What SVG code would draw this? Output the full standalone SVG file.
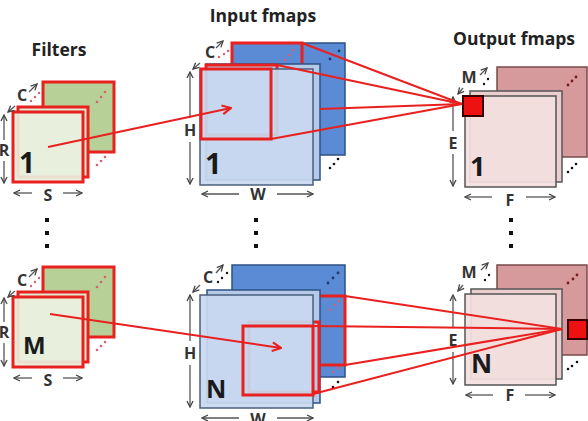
<svg xmlns="http://www.w3.org/2000/svg" width="588" height="421" viewBox="0 0 588 421">
<defs>
<marker id="ga" viewBox="0 0 8 8" refX="7" refY="4" markerWidth="8" markerHeight="8" markerUnits="userSpaceOnUse" orient="auto"><path d="M1,1 L7,4 L1,7" fill="none" stroke="#444" stroke-width="1.3"/></marker>
<marker id="ra" viewBox="0 0 10 10" refX="9" refY="5" markerWidth="11" markerHeight="11" markerUnits="userSpaceOnUse" orient="auto"><path d="M1,1 L9,5 L1,9" fill="none" stroke="#e8201e" stroke-width="2"/></marker>
<style>
.t{font-family:"Open Sans","Liberation Sans",sans-serif;font-weight:700;fill:#222}
.ttl{font-size:17.5px;text-anchor:middle}
.lb{font-size:16px;fill:#333;text-anchor:middle}
.big{font-size:28px;fill:#1a1a1a}
.ga{stroke:#555;stroke-width:1.3;fill:none;marker-end:url(#ga)}
.fb{fill:#b7d097;stroke:#e8201e;stroke-width:3}
.fm{fill:#e1e9d0;stroke:#e8201e;stroke-width:3}
.ff{fill:#e9efdd;fill-opacity:0.92;stroke:#e8201e;stroke-width:3}
.ib{fill:#5b8bd5;stroke:#2e5185;stroke-width:1.5}
.im{fill:#b6c9e7;stroke:#2e5185;stroke-width:1.5}
.if{fill:#c8d8ef;fill-opacity:0.93;stroke:#4a5f7e;stroke-width:1.5}
.ob{fill:#d79a9c;stroke:#7a4a4a;stroke-width:1.5}
.om{fill:#ebcfcf;stroke:#555;stroke-width:1.5}
.of{fill:#f3dfdf;fill-opacity:0.93;stroke:#555;stroke-width:1.5}
.rr{fill:none;stroke:#e8201e;stroke-width:3}
.rq{fill:#ee1111;stroke:#3a0000;stroke-width:2}
.cn{stroke:#e8201e;stroke-width:2;fill:none}
.dk{fill:#111}
.db{fill:#1d3a70}
.pk{fill:#d86070}
.dr{fill:#7a1a1a}
</style>
</defs>
<rect width="588" height="421" fill="#ffffff"/>

<text class="t ttl" x="59" y="56">Filters</text>
<text class="t ttl" x="263" y="22">Input fmaps</text>
<text class="t ttl" x="514" y="45">Output fmaps</text>

<g id="filter-1">
<rect class="fb" x="43" y="82" width="71" height="70"/>
<circle class="pk" cx="97" cy="102" r="1.3"/><circle class="pk" cx="101" cy="97" r="1.3"/><circle class="pk" cx="105" cy="92" r="1.3"/>
<circle class="pk" cx="97" cy="165" r="1.3"/><circle class="pk" cx="101" cy="161" r="1.3"/><circle class="pk" cx="105" cy="157" r="1.3"/>
<rect class="fm" x="18" y="107" width="70" height="70"/>
<rect class="ff" x="13" y="112" width="70" height="70"/>
<text class="t big" x="19" y="173">1</text>
<text class="t lb" x="22" y="101">C</text>
<line class="ga" x1="29" y1="92" x2="37" y2="84"/>
<line class="ga" x1="15" y1="106" x2="8" y2="112"/>
<circle class="pk" cx="31" cy="101" r="1.2"/><circle class="pk" cx="35" cy="97" r="1.2"/><circle class="pk" cx="39" cy="93" r="1.2"/>
<text class="t lb" x="4" y="156">R</text>
<line class="ga" x1="4" y1="140" x2="4" y2="115"/>
<line class="ga" x1="4" y1="161" x2="4" y2="183"/>
<text class="t lb" x="48" y="201">S</text>
<line class="ga" x1="32" y1="193" x2="14" y2="193"/>
<line class="ga" x1="63" y1="193" x2="82" y2="193"/>
</g>

<g id="filter-M">
<rect class="fb" x="43" y="267" width="71" height="70"/>
<circle class="pk" cx="97" cy="287" r="1.3"/><circle class="pk" cx="101" cy="282" r="1.3"/><circle class="pk" cx="105" cy="277" r="1.3"/>
<circle class="pk" cx="97" cy="350" r="1.3"/><circle class="pk" cx="101" cy="346" r="1.3"/><circle class="pk" cx="105" cy="342" r="1.3"/>
<rect class="fm" x="18" y="292" width="70" height="70"/>
<rect class="ff" x="13" y="297" width="70" height="70"/>
<text class="t big" x="23" y="354" style="font-size:24px">M</text>
<text class="t lb" x="22" y="286">C</text>
<line class="ga" x1="29" y1="277" x2="37" y2="269"/>
<line class="ga" x1="15" y1="291" x2="8" y2="297"/>
<circle class="pk" cx="31" cy="286" r="1.2"/><circle class="pk" cx="35" cy="282" r="1.2"/><circle class="pk" cx="39" cy="278" r="1.2"/>
<text class="t lb" x="4" y="338">R</text>
<line class="ga" x1="4" y1="322" x2="4" y2="298"/>
<line class="ga" x1="4" y1="343" x2="4" y2="366"/>
<text class="t lb" x="48" y="386">S</text>
<line class="ga" x1="32" y1="378" x2="14" y2="378"/>
<line class="ga" x1="63" y1="378" x2="82" y2="378"/>
</g>

<g id="ifmap-1">
<rect class="ib" x="232" y="43" width="113" height="112"/>
<rect class="rr" x="232" y="43" width="70" height="70"/>
<circle class="db" cx="339" cy="51" r="1.4"/><circle class="db" cx="330" cy="59" r="1.4"/>
<circle class="pk" cx="293" cy="50" r="1.2"/><circle class="pk" cx="289" cy="55" r="1.2"/><circle class="pk" cx="285" cy="60" r="1.2"/>
<rect class="im" x="206" y="64" width="114" height="116"/>
<rect class="rr" x="206" y="65" width="71" height="70"/>
<rect class="if" x="200" y="69" width="113" height="116"/>
<rect class="rr" x="201" y="69" width="70" height="70"/>
<circle class="dk" cx="330" cy="168" r="1.3"/><circle class="dk" cx="334" cy="164" r="1.3"/><circle class="dk" cx="338" cy="159" r="1.3"/>
<text class="t big" x="205" y="174" style="font-size:29px">1</text>
<text class="t lb" x="210" y="58">C</text>
<line class="ga" x1="216" y1="48" x2="223" y2="41"/>
<line class="ga" x1="200" y1="63" x2="193" y2="69"/>
<circle class="pk" cx="219" cy="57" r="1.2"/><circle class="pk" cx="224" cy="54" r="1.2"/><circle class="pk" cx="228" cy="51" r="1.2"/>
<text class="t lb" x="190" y="136">H</text>
<line class="ga" x1="190" y1="118" x2="190" y2="72"/>
<line class="ga" x1="190" y1="142" x2="190" y2="184"/>
<text class="t lb" x="258" y="200">W</text>
<line class="ga" x1="239" y1="194" x2="202" y2="194"/>
<line class="ga" x1="277" y1="194" x2="313" y2="194"/>
</g>

<g id="ifmap-N">
<rect class="ib" x="232" y="265" width="113" height="112"/>
<rect class="rr" x="275" y="296" width="70" height="69"/>
<circle class="db" cx="328" cy="283" r="1.4"/><circle class="db" cx="333" cy="278" r="1.4"/><circle class="db" cx="338" cy="273" r="1.4"/>
<circle class="pk" cx="330" cy="310" r="1.2"/><circle class="pk" cx="335" cy="305" r="1.2"/><circle class="pk" cx="339" cy="301" r="1.2"/>
<circle class="pk" cx="333" cy="372" r="1.2"/><circle class="pk" cx="338" cy="368" r="1.2"/>
<rect class="im" x="207" y="290" width="113" height="113"/>
<rect class="rr" x="249" y="322" width="70" height="70"/>
<rect class="if" x="200" y="295" width="113" height="113"/>
<rect class="rr" x="243" y="326" width="70" height="69"/>
<circle class="dk" cx="333" cy="387" r="1.3"/><circle class="dk" cx="338" cy="382" r="1.3"/>
<text class="t big" x="206" y="398" style="font-size:25px">N</text>
<text class="t lb" x="208" y="283">C</text>
<line class="ga" x1="216" y1="273" x2="223" y2="265"/>
<line class="ga" x1="200" y1="285" x2="193" y2="292"/>
<circle class="dk" cx="218" cy="282" r="1.2"/><circle class="dk" cx="222" cy="278" r="1.2"/><circle class="dk" cx="227" cy="273" r="1.2"/>
<text class="t lb" x="190" y="359">H</text>
<line class="ga" x1="190" y1="341" x2="190" y2="295"/>
<line class="ga" x1="190" y1="365" x2="190" y2="407"/>
<text class="t lb" x="258" y="425">W</text>
<line class="ga" x1="239" y1="418" x2="202" y2="418"/>
<line class="ga" x1="277" y1="418" x2="313" y2="418"/>
</g>

<g id="ofmap-1">
<rect class="ob" x="497" y="67" width="90" height="90"/>
<circle class="dr" cx="568" cy="85" r="1.4"/><circle class="dr" cx="572" cy="81" r="1.4"/><circle class="dr" cx="576" cy="77" r="1.4"/>
<rect class="om" x="470" y="91" width="92" height="91"/>
<rect class="of" x="465" y="96" width="91" height="91"/>
<rect class="rq" x="463" y="96" width="20" height="20"/>
<circle class="dk" cx="568" cy="172" r="1.3"/><circle class="dk" cx="572" cy="168" r="1.3"/><circle class="dk" cx="576" cy="164" r="1.3"/>
<text class="t big" x="470" y="176" style="font-size:27px">1</text>
<text class="t lb" x="469" y="83">M</text>
<line class="ga" x1="480" y1="75" x2="487" y2="68"/>
<line class="ga" x1="463" y1="88" x2="458" y2="94"/>
<circle class="dk" cx="484" cy="84" r="1.2"/><circle class="dk" cx="488" cy="79" r="1.2"/>
<text class="t lb" x="453" y="149">E</text>
<line class="ga" x1="453" y1="131" x2="453" y2="97"/>
<line class="ga" x1="453" y1="154" x2="453" y2="186"/>
<text class="t lb" x="510" y="206">F</text>
<line class="ga" x1="492" y1="197" x2="465" y2="197"/>
<line class="ga" x1="526" y1="197" x2="555" y2="197"/>
</g>

<g id="ofmap-N">
<rect class="ob" x="497" y="265" width="90" height="90"/>
<circle class="dr" cx="568" cy="283" r="1.4"/><circle class="dr" cx="573" cy="279" r="1.4"/><circle class="dr" cx="577" cy="275" r="1.4"/>
<rect class="om" x="471" y="289" width="91" height="90"/>
<rect class="of" x="465" y="294" width="91" height="91"/>
<rect class="rq" x="568" y="320" width="19" height="19"/>
<circle class="dk" cx="568" cy="369" r="1.3"/><circle class="dk" cx="572" cy="366" r="1.3"/><circle class="dk" cx="577" cy="362" r="1.3"/>
<text class="t big" x="471" y="373" style="font-size:26px">N</text>
<text class="t lb" x="469" y="278">M</text>
<line class="ga" x1="481" y1="270" x2="488" y2="263"/>
<line class="ga" x1="463" y1="285" x2="458" y2="291"/>
<circle class="dk" cx="485" cy="280" r="1.2"/><circle class="dk" cx="489" cy="275" r="1.2"/>
<text class="t lb" x="453" y="346">E</text>
<line class="ga" x1="453" y1="328" x2="453" y2="295"/>
<line class="ga" x1="453" y1="352" x2="453" y2="384"/>
<text class="t lb" x="510" y="401">F</text>
<line class="ga" x1="493" y1="395" x2="466" y2="395"/>
<line class="ga" x1="525" y1="395" x2="555" y2="395"/>
</g>

<g id="dots">
<rect class="dk" x="45" y="218" width="4" height="4"/><rect class="dk" x="45" y="231" width="4" height="4"/><rect class="dk" x="45" y="244" width="4" height="4"/>
<rect class="dk" x="254" y="218" width="4" height="4"/><rect class="dk" x="254" y="231" width="4" height="4"/><rect class="dk" x="254" y="244" width="4" height="4"/>
<rect class="dk" x="509" y="218" width="4" height="4"/><rect class="dk" x="509" y="231" width="4" height="4"/><rect class="dk" x="509" y="244" width="4" height="4"/>
</g>

<g id="connectors">
<line class="cn" x1="48" y1="147" x2="231" y2="108" marker-end="url(#ra)"/>
<line class="cn" x1="302" y1="43" x2="462" y2="104"/>
<line class="cn" x1="277" y1="65" x2="462" y2="104"/>
<line class="cn" x1="320" y1="109" x2="462" y2="104"/>
<line class="cn" x1="271" y1="139" x2="462" y2="104"/>
<line class="cn" x1="50" y1="314" x2="281" y2="348" marker-end="url(#ra)"/>
<line class="cn" x1="345" y1="296" x2="562" y2="329"/>
<line class="cn" x1="313" y1="326" x2="562" y2="329"/>
<line class="cn" x1="345" y1="365" x2="562" y2="329"/>
<line class="cn" x1="313" y1="394" x2="562" y2="329"/>
</g>
</svg>
